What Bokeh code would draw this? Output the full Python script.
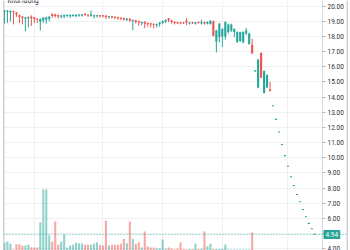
import numpy as np
from bokeh.plotting import figure
from bokeh.models import (Range1d, SingleIntervalTicker, NumeralTickFormatter,
                          FixedTicker, Span, Label, LinearAxis, BoxAnnotation)
from bokeh.embed import file_html
from bokeh.resources import INLINE

# ---------------- data ----------------
opens = [19.62, 19.64, 19.60, 19.66, 19.58, 19.40, 19.32, 19.18, 19.20, 19.32,
         19.25, 19.18, 18.95, 19.05, 19.10, 19.15, 19.48, 19.45, 19.40, 19.30,
         19.32, 19.36, 19.34, 19.36, 19.36, 19.38, 19.38, 19.50, 19.44, 19.36,
         19.33, 19.34, 19.40, 19.38, 19.38, 19.26, 19.34, 19.30, 19.28, 19.24,
         19.22, 19.10, 19.18, 19.02, 19.08, 19.02, 18.88, 18.98, 18.90, 18.86,
         18.84, 18.76, 18.82, 18.90, 18.98, 19.20, 19.06, 18.96, 18.92, 18.92,
         18.90, 19.05, 18.86, 18.93, 18.84, 18.92, 18.86, 18.95, 18.84, 18.82,
         19.00, 17.65, 17.95, 18.00, 18.00, 18.30, 18.40, 18.30, 17.63, 17.70,
         17.63, 18.20, 17.50, 17.45, 15.70, 14.63, 16.91, 14.28, 14.63, 14.50,
         13.40, 12.50, 11.67, 10.84, 10.11, 9.41, 8.71, 8.14, 7.55, 7.07,
         6.56, 6.08, 5.64, 5.29, 4.94]
highs = [19.75, 19.74, 19.72, 19.70, 19.60, 19.45, 19.36, 19.30, 19.32, 19.40,
         19.30, 19.20, 19.20, 19.28, 19.30, 19.35, 19.52, 19.50, 19.45, 19.42,
         19.45, 19.45, 19.46, 19.46, 19.46, 19.48, 19.50, 19.55, 19.46, 19.72,
         19.44, 19.42, 19.42, 19.40, 19.40, 19.34, 19.36, 19.33, 19.30, 19.27,
         19.25, 19.22, 19.20, 19.12, 19.10, 19.04, 18.98, 19.00, 18.92, 18.88,
         18.86, 18.86, 18.95, 19.05, 19.12, 19.22, 19.10, 19.00, 18.95, 18.96,
         18.93, 19.20, 18.95, 18.96, 18.96, 18.95, 19.10, 18.98, 19.00, 19.08,
         19.05, 18.45, 18.90, 18.55, 19.00, 18.85, 18.85, 18.55, 18.35, 18.32,
         18.35, 18.55, 18.25, 17.85, 15.78, 16.50, 16.95, 15.75, 15.50, 15.00,
         13.40, 12.50, 11.67, 10.84, 10.11, 9.41, 8.71, 8.14, 7.55, 7.07,
         6.56, 6.08, 5.64, 5.29, 4.94]
lows = [18.85, 18.90, 19.00, 18.80, 19.30, 18.90, 18.80, 18.35, 18.60, 18.70,
        18.90, 18.90, 18.40, 18.90, 18.85, 19.00, 19.25, 19.25, 19.20, 19.20,
        19.20, 19.28, 19.22, 19.30, 19.26, 19.30, 19.30, 19.35, 19.30, 19.30,
        19.20, 19.26, 19.25, 19.26, 19.15, 19.20, 19.18, 19.15, 19.10, 19.08,
        19.05, 19.02, 18.95, 18.40, 18.85, 18.70, 18.75, 18.55, 18.65, 18.60,
        18.55, 18.60, 18.65, 18.80, 18.88, 18.95, 18.85, 18.80, 18.82, 18.80,
        18.82, 18.75, 18.80, 18.82, 18.78, 18.85, 18.80, 18.78, 18.80, 18.78,
        18.00, 16.95, 17.60, 17.30, 17.80, 18.20, 18.30, 17.95, 17.60, 17.65,
        17.55, 18.10, 17.45, 16.85, 15.70, 14.60, 15.25, 14.25, 14.60, 14.38,
        13.40, 12.50, 11.67, 10.84, 10.11, 9.41, 8.71, 8.14, 7.55, 7.07,
        6.56, 6.08, 5.64, 5.29, 4.94]
closes = [19.72, 19.71, 19.69, 19.62, 19.45, 19.30, 19.22, 19.26, 19.28, 19.20,
          19.15, 19.10, 19.15, 19.25, 19.27, 19.30, 19.36, 19.35, 19.32, 19.38,
          19.42, 19.41, 19.42, 19.44, 19.42, 19.46, 19.45, 19.43, 19.38, 19.42,
          19.40, 19.40, 19.34, 19.33, 19.28, 19.32, 19.27, 19.24, 19.20, 19.17,
          19.12, 19.18, 19.06, 19.08, 18.98, 18.92, 18.95, 18.85, 18.82, 18.80,
          18.78, 18.83, 18.92, 19.02, 19.10, 19.08, 18.95, 18.90, 18.88, 18.86,
          18.87, 18.92, 18.92, 18.88, 18.93, 18.90, 18.94, 18.86, 18.96, 19.04,
          18.05, 18.40, 18.85, 18.50, 18.95, 18.80, 18.80, 18.50, 18.30, 18.30,
          18.30, 18.40, 18.20, 16.90, 15.74, 16.48, 15.29, 15.72, 15.44, 14.40,
          13.40, 12.50, 11.67, 10.84, 10.11, 9.41, 8.71, 8.14, 7.55, 7.07,
          6.56, 6.08, 5.64, 5.29, 4.94]
# volume, thousand shares
volume = [154, 180, 134, 20, 126, 126, 94, 100, 114, 66,
          60, 60, 566, 1220, 1220, 300, 180, 580, 114, 180,
          314, 60, 100, 114, 154, 146, 140, 114, 114, 114,
          134, 166, 114, 100, 594, 100, 114, 114, 114, 134,
          234, 146, 580, 234, 134, 166, 60, 380, 80, 60,
          60, 46, 46, 220, 34, 60, 40, 26, 40, 166,
          30, 20, 30, 30, 140, 30, 34, 386, 86, 134,
          30, 30, 30, 34, 120, 20, 20, 20, 20, 20,
          20, 20, 20, 360, 10, 10, 10, 10, 10, 10,
          0, 0, 0, 0, 0, 0, 0, 0, 0, 0,
          0, 0, 0, 0, 0]
month_starts = [10, 33, 53, 73, 95]
pane_title = "Khối lượng"

# ---------------- styling ----------------
UP = "#26a69a"
DOWN = "#ef5350"
FONT = "Roboto"
W, H = 350, 250
BL, BR = 3, 3
BAR_PX = 2.984          # pixels per bar
SCALE_PX = 25           # width of the price-scale strip inside the frame
FRAME_W = W - BL - BR

o = np.array(opens)
c = np.array(closes)
h = np.array(highs)
l = np.array(lows)
idx = np.arange(len(c))
colors = np.where(c >= o, UP, DOWN).tolist()
body_bot = np.minimum(o, c)
body_top = np.maximum(np.maximum(o, c), body_bot + 0.07)

x_start = -1 / BAR_PX
x_end = x_start + FRAME_W / BAR_PX
axis_x = x_end - SCALE_PX / BAR_PX
y_start, y_end = 3.885, 20.376

p = figure(width=W, height=H, output_backend="svg", toolbar_location=None,
           x_range=Range1d(x_start, x_end), y_range=Range1d(y_start, y_end),
           x_axis_location=None, y_axis_location=None,
           min_border_left=BL, min_border_right=BR, min_border_top=0,
           min_border_bottom=0)
p.outline_line_color = None
p.background_fill_color = "white"
p.border_fill_color = "white"
p.extra_y_ranges = {"vol": Range1d(0, 5000)}

ticker = SingleIntervalTicker(interval=1)

# grid
p.ygrid.grid_line_color = "#eef0f4"
p.ygrid.ticker = ticker
p.xgrid.grid_line_color = "#eef0f4"
p.xgrid.ticker = FixedTicker(ticks=month_starts)

# blank strip under the price scale
p.add_layout(BoxAnnotation(left=axis_x, fill_color="white", fill_alpha=1.0,
                           line_color=None, level="underlay"))

# right price axis drawn at the scale boundary
ax = LinearAxis(fixed_location=axis_x, ticker=ticker,
                formatter=NumeralTickFormatter(format="0.00"))
ax.major_label_text_font = FONT
ax.major_label_text_font_size = "6.5px"
ax.major_label_text_color = "#2a2e39"
ax.axis_line_color = "#d9dbe0"
ax.major_tick_line_color = "#b2b5be"
ax.major_tick_out = 3
ax.major_tick_in = 0
ax.minor_tick_out = 0
ax.minor_tick_in = 0
ax.major_label_standoff = 2
p.add_layout(ax, "right")

# volume
p.vbar(x=idx, width=0.7, top=volume, bottom=0, y_range_name="vol",
       fill_color=colors, fill_alpha=0.5, line_color=None)

# candles
p.segment(x0=idx, y0=h, x1=idx, y1=l, line_color=colors, line_width=1)
p.vbar(x=idx, width=0.7, top=body_top, bottom=body_bot,
       fill_color=colors, line_color=None)

# pane borders
p.add_layout(Span(location=x_start, dimension="height",
                  line_color="#a3a6af", line_width=1.5))
p.add_layout(Span(location=x_end, dimension="height",
                  line_color="#a3a6af", line_width=1.5))

# last price line + tag on the price scale
last = closes[-1]
p.add_layout(Span(location=last, dimension="width", line_color=UP,
                  line_alpha=0.8, line_dash="1 2", line_width=1))
p.add_layout(Label(x=axis_x, y=last, x_offset=1, text=f"{last:.2f}",
                   text_color="white", text_font=FONT, text_font_size="6.5px",
                   text_baseline="middle", text_align="left",
                   background_fill_color=UP, padding=2))

# pane title (cut at the top)
p.add_layout(Label(x=x_start, y=y_end, x_offset=4, y_offset=3.5,
                   text=pane_title, text_font=FONT, text_font_size="6.5px",
                   text_color="#131722", text_baseline="top"))

open("out.html", "w").write(file_html(p, INLINE))
